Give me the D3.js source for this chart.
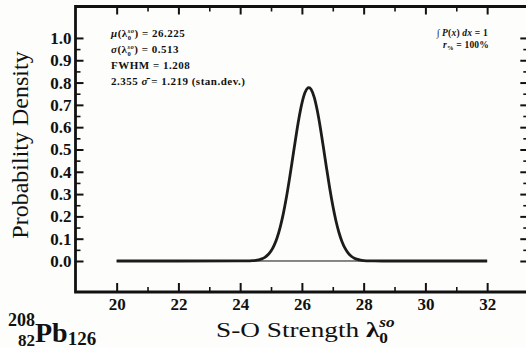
<!DOCTYPE html>
<html>
<head>
<meta charset="utf-8">
<script src="https://cdn.jsdelivr.net/npm/d3@7"></script>
<style>
  html, body { margin: 0; padding: 0; background: #fdfdfb; }
  svg { display: block; }
</style>
</head>
<body>
<svg id="chart" width="526" height="348"></svg>
<script>
// Posterior probability density of the spin-orbit strength λ0^so for 208Pb
const lambdaValues = [20.0, 24.0, 24.2, 24.4, 24.5, 24.6, 24.7, 24.8, 24.9,
  25.0, 25.1, 25.2, 25.3, 25.4, 25.5, 25.6, 25.7, 25.8, 25.9,
  26.0, 26.1, 26.2, 26.225, 26.3, 26.4, 26.5, 26.6, 26.7, 26.8, 26.9,
  27.0, 27.1, 27.2, 27.3, 27.4, 27.5, 27.6, 27.7, 27.8, 27.9,
  28.0, 28.1, 28.3, 28.6, 32.0];
const densityValues = [0, 0.0001, 0.0003, 0.0014, 0.0027, 0.0052, 0.0094, 0.0164, 0.0277,
  0.0449, 0.0702, 0.1056, 0.1530, 0.2134, 0.2865, 0.3703, 0.4607, 0.5518, 0.6363,
  0.7064, 0.7550, 0.7768, 0.7777, 0.7694, 0.7337, 0.6736, 0.5954, 0.5066, 0.4150, 0.3272,
  0.2485, 0.1816, 0.1278, 0.0866, 0.0565, 0.0354, 0.0214, 0.0125, 0.0070, 0.0038,
  0.0020, 0.0010, 0.0002, 0, 0];

// Summary statistics printed inside the frame
const statMean = 26.225;
const statSigma = 0.513;
const statFwhm = 1.208;
const statSigmaFwhm = 1.219;

const xMajorTicks = [20, 22, 24, 26, 28, 30, 32];
const xMinorTicks = [21, 23, 25, 27, 29, 31];
const yMajorTicks = [0.0, 0.1, 0.2, 0.3, 0.4, 0.5, 0.6, 0.7, 0.8, 0.9, 1.0];
const yMinorTicks = [0.05, 0.15, 0.25, 0.35, 0.45, 0.55, 0.65, 0.75, 0.85, 0.95];
const baselineRange = [20, 32];

const SERIF = "'Liberation Serif', 'Times New Roman', serif";
const INK = "#111";

const svg = d3.select("#chart");

const x = d3.scaleLinear().domain([18.667, 33.333]).range([75.5, 528.3]);
const y = d3.scaleLinear().domain([-0.139, 1.141]).range([292, 6.5]);

// ---- axes (ticks point inward) ----
function styleAxis(g, width) {
  g.select(".domain").remove();
  g.selectAll(".tick line").attr("stroke", INK).attr("stroke-width", width);
  g.attr("font-family", SERIF).attr("font-size", 17).attr("font-weight", "bold");
  g.selectAll(".tick text").attr("fill", INK);
}

svg.append("g").attr("transform", "translate(0,292)")
  .call(d3.axisBottom(x).tickValues(xMajorTicks).tickSize(-9).tickPadding(6).tickFormat(d3.format("d")))
  .call(g => styleAxis(g, 2));
svg.append("g").attr("transform", "translate(0,292)")
  .call(d3.axisBottom(x).tickValues(xMinorTicks).tickSize(-5).tickFormat(""))
  .call(g => styleAxis(g, 1.6));
svg.append("g").attr("transform", "translate(0,6.5)")
  .call(d3.axisTop(x).tickValues(xMajorTicks).tickSize(-8).tickFormat(""))
  .call(g => styleAxis(g, 2));
svg.append("g").attr("transform", "translate(0,6.5)")
  .call(d3.axisTop(x).tickValues(xMinorTicks).tickSize(-5).tickFormat(""))
  .call(g => styleAxis(g, 1.6));

svg.append("g").attr("transform", "translate(75.5,0)")
  .call(d3.axisLeft(y).tickValues(yMajorTicks).tickSize(-8).tickPadding(4).tickFormat(d3.format(".1f")))
  .call(g => styleAxis(g, 2));
svg.append("g").attr("transform", "translate(75.5,0)")
  .call(d3.axisLeft(y).tickValues(yMinorTicks).tickSize(-5).tickFormat(""))
  .call(g => styleAxis(g, 1.6));
svg.append("g").attr("transform", "translate(528.3,0)")
  .call(d3.axisRight(y).tickValues(yMajorTicks).tickSize(-8).tickFormat(""))
  .call(g => styleAxis(g, 2));
svg.append("g").attr("transform", "translate(528.3,0)")
  .call(d3.axisRight(y).tickValues(yMinorTicks).tickSize(-5).tickFormat(""))
  .call(g => styleAxis(g, 1.6));

// frame
const [x0, x1] = x.range();
const [yb, yt] = y.range();
svg.append("path")
  .attr("d", `M${x1},${yt}H${x0}V${yb}H${x1}V${yt}`)
  .attr("fill", "none").attr("stroke", INK).attr("stroke-width", 2.8);

// ---- zero baseline and density curve ----
svg.append("line")
  .attr("x1", x(baselineRange[0])).attr("x2", x(baselineRange[1]))
  .attr("y1", y(0)).attr("y2", y(0))
  .attr("stroke", INK).attr("stroke-width", 1);

const pts = lambdaValues.map((v, i) => [v, densityValues[i]]);
svg.append("path")
  .datum(pts)
  .attr("fill", "none")
  .attr("stroke", "#1c1c1c")
  .attr("stroke-width", 2.8)
  .attr("stroke-linejoin", "round")
  .attr("d", d3.line().x(d => x(d[0])).y(d => y(d[1])).curve(d3.curveMonotoneX));

// ---- rich text with sub/superscripts ----
function richText(parent, px, py, runs, base) {
  const t = parent.append("text").attr("x", px).attr("y", py)
    .attr("font-family", SERIF).attr("font-size", base.size)
    .attr("font-weight", base.weight || "normal")
    .attr("letter-spacing", base.ls || 0)
    .attr("fill", INK);
  let shift = 0, prevLen = 0, carry = 0;
  runs.forEach(r => {
    const ts = t.append("tspan").text(r.t);
    if (r.size) ts.attr("font-size", r.size);
    if (r.style) ts.attr("font-style", r.style);
    if (r.weight) ts.attr("font-weight", r.weight);
    const len = ts.node().getComputedTextLength();
    let dx = carry; carry = 0;
    if (r.stack === "start") { dx -= prevLen; if (len < prevLen) carry = prevLen - len; }
    if (r.stack === "end") { dx -= len; }
    const s = r.shift || 0;
    if (dx) ts.attr("dx", dx);
    if (s !== shift) ts.attr("dy", s - shift);
    shift = s;
    prevLen = len;
  });
  return t;
}

const f3 = d3.format(".3f");
const statStyle = { size: 11, weight: "bold", ls: 0.5 };
const lambdaRuns = [
  { t: "(" }, { t: "λ" },
  { t: "0", size: 6.5, shift: 3 },
  { t: "so", size: 6.5, style: "italic", shift: -4.5, stack: "start" },
  { t: ")" }
];
richText(svg, 111, 37, [{ t: "μ", style: "italic" }, ...lambdaRuns, { t: " = " + f3(statMean) }], statStyle);
richText(svg, 111, 53, [{ t: "σ", style: "italic" }, ...lambdaRuns, { t: " = " + f3(statSigma) }], statStyle);
richText(svg, 111, 69, [{ t: "FWHM = " + f3(statFwhm) }], statStyle);
richText(svg, 111, 85, [{ t: "2.355 " }, { t: "σ\u0304", style: "italic" }, { t: " = " + f3(statSigmaFwhm) + " (stan.dev.)" }], statStyle);

// normalisation note, right-aligned
function alignRight(sel, right) {
  const w = sel.node().getBBox().width;
  sel.attr("x", right - w);
}
const noteStyle = { size: 9.5, weight: "bold", ls: 0.2 };
alignRight(richText(svg, 0, 36, [
  { t: "∫ ", weight: "normal" }, { t: "P", style: "italic" }, { t: "(" },
  { t: "x", style: "italic" }, { t: ") " }, { t: "dx", style: "italic" }, { t: " = 1" }
], noteStyle), 489);
alignRight(richText(svg, 0, 48, [
  { t: "r", style: "italic" }, { t: "%", size: 6.5, shift: 2 }, { t: " = 100%" }
], noteStyle), 489);

// ---- axis titles ----
svg.append("text")
  .attr("transform", "translate(28,145) rotate(-90)")
  .attr("text-anchor", "middle")
  .attr("font-family", SERIF).attr("font-size", 24)
  .attr("fill", INK)
  .text("Probability Density");

const xTitle = svg.append("g").attr("transform", "translate(216,337) scale(1.24,1)");
richText(xTitle, 0, 0, [
  { t: "S-O Strength " },
  { t: "λ", weight: "bold" },
  { t: "0", size: 14, weight: "bold", shift: 6 },
  { t: "so", size: 14, weight: "bold", style: "italic", shift: -10, stack: "start" }
], { size: 22 });

// nucleus label
richText(svg, 8, 342, [
  { t: "208", size: 18, shift: -16 },
  { t: "82", size: 17, shift: 3.5, stack: "end" },
  { t: "Pb" },
  { t: "126", size: 19, shift: 3 }
], { size: 28, weight: "bold" });
</script>
</body>
</html>
